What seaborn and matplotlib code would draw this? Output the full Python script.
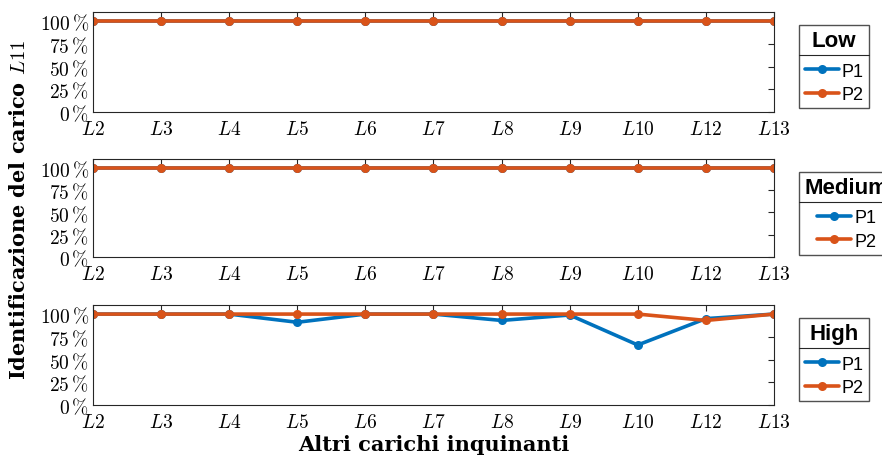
import seaborn as sns
import matplotlib.pyplot as plt
import matplotlib.lines as mlines
import numpy as np
import pandas as pd

carichi = ['L2', 'L3', 'L4', 'L5', 'L6', 'L7', 'L8', 'L9', 'L10', 'L12', 'L13']
livelli = ['Low', 'Medium', 'High']

low_p1 = [100, 100, 100, 100, 100, 100, 100, 100, 100, 100, 100]
low_p2 = [100, 100, 100, 100, 100, 100, 100, 100, 100, 100, 100]
medium_p1 = [100, 100, 100, 100, 100, 100, 100, 100, 100, 100, 100]
medium_p2 = [100, 100, 100, 100, 100, 100, 100, 100, 100, 100, 100]
high_p1 = [100, 100, 100, 91, 100, 100, 93, 99, 66, 95, 100]
high_p2 = [100, 100, 100, 100, 100, 100, 100, 100, 100, 93, 100]

dati = {'Low': (low_p1, low_p2), 'Medium': (medium_p1, medium_p2), 'High': (high_p1, high_p2)}

sns.set_style('white')
plt.rcParams['mathtext.fontset'] = 'cm'
plt.rcParams['font.family'] = ['DejaVu Serif']
plt.rcParams['text.color'] = 'black'
plt.rcParams['axes.labelcolor'] = 'black'
plt.rcParams['xtick.color'] = 'black'
plt.rcParams['ytick.color'] = 'black'

fig = plt.figure(figsize=(8.82, 4.60), dpi=100)
posizioni = [[0.1054, 0.7543, 0.7721, 0.2174],
             [0.1054, 0.4391, 0.7721, 0.2130],
             [0.1054, 0.1174, 0.7721, 0.2174]]
colori = {'P1': '#0072BD', 'P2': '#D95319'}
legende = []

for i, liv in enumerate(livelli):
    ax = fig.add_axes(posizioni[i])
    p1, p2 = dati[liv]
    df = pd.DataFrame({'carico': list(range(len(carichi))) * 2,
                       'valore': p1 + p2,
                       'serie': ['P1'] * len(p1) + ['P2'] * len(p2)})
    sns.lineplot(data=df, x='carico', y='valore', hue='serie', palette=colori,
                 marker='o', markersize=6.5, markeredgewidth=0, linewidth=2.6, ax=ax)
    ax.set_xlim(0, len(carichi) - 1)
    ax.set_ylim(0, 110)
    ax.set_xticks(range(len(carichi)))
    ax.set_xticklabels(['$' + c + '$' for c in carichi], fontsize=14)
    ax.set_yticks([0, 25, 50, 75, 100])
    ax.set_yticklabels([r'$%d\,\%%$' % v for v in [0, 25, 50, 75, 100]], fontsize=14)
    ax.tick_params(direction='in', top=True, right=True, length=4, color='#262626', pad=3)
    ax.tick_params(axis='x', pad=6)
    for s in ax.spines.values():
        s.set_color('#262626')
        s.set_linewidth(0.8)
    ax.set_xlabel('')
    ax.set_ylabel('')
    leg = ax.legend(title=liv, loc='upper left', bbox_to_anchor=(1.037, 0.87),
                    prop={'family': 'Liberation Sans', 'size': 13}, frameon=True,
                    fancybox=False, edgecolor='#262626', handlelength=1.9,
                    handletextpad=0.15, borderpad=0.3, labelspacing=0.35, borderaxespad=0)
    leg.get_title().set_fontweight('bold')
    leg.get_title().set_fontsize(16)
    leg.get_title().set_family('Liberation Sans')
    leg._legend_box.sep = 8
    legende.append(leg)
    if i == 2:
        ax.set_xlabel('Altri carichi inquinanti', fontsize=15, fontweight='bold',
                      labelpad=2, color='black')

fig.text(0.022, 0.545, r'Identificazione del carico $L11$', rotation=90,
         fontsize=15, fontweight='bold', va='center', ha='center', color='black')

# linea di separazione sotto il titolo della legenda
fig.canvas.draw()
r = fig.canvas.get_renderer()
for leg in legende:
    bb = leg.get_window_extent(r)
    tb = leg.get_title().get_window_extent(r)
    y = (tb.y0 - 4) / fig.bbox.height
    fig.add_artist(mlines.Line2D([bb.x0 / fig.bbox.width, bb.x1 / fig.bbox.width], [y, y],
                                 color='#262626', linewidth=0.8))

fig.savefig('out.png', dpi=100)
